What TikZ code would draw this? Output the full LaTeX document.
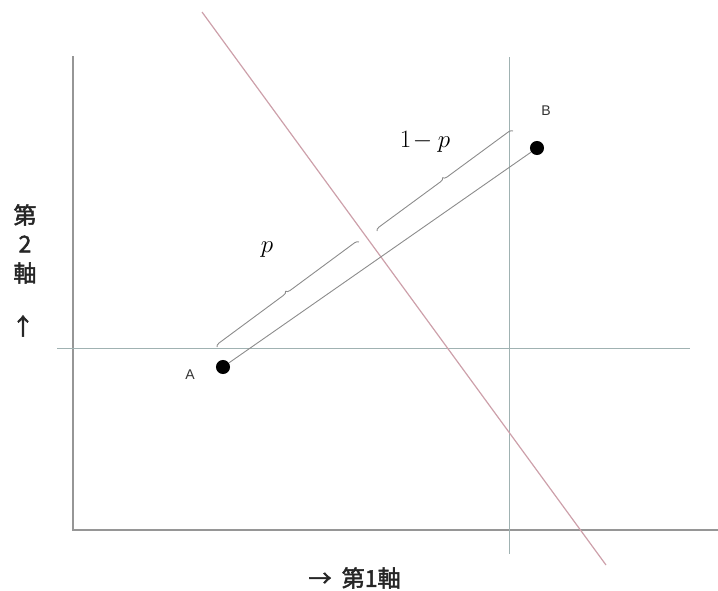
\documentclass[tikz,border=0pt]{standalone}
\usepackage{fontspec}
\newfontfamily\cjk{Noto Sans CJK JP}[FakeBold=2]
\newfontfamily\lbl{Liberation Sans}
\usetikzlibrary{decorations.pathreplacing}
\definecolor{axisgray}{RGB}{150,150,150}
\definecolor{guide}{RGB}{160,178,178}
\definecolor{redline}{RGB}{205,160,170}
\definecolor{bracegray}{RGB}{140,140,140}
\tikzset{
  axis/.style={draw=axisgray, line width=1.3pt},
  guideline/.style={draw=guide, line width=0.9pt},
  cutline/.style={draw=redline, line width=1.2pt},
  dot/.style={circle, fill=black, inner sep=0pt, minimum size=14pt},
  seg/.style={draw=bracegray, line width=0.9pt},
  bracestyle/.style={draw=bracegray, line width=0.9pt, decorate, decoration={brace, amplitude=4pt, aspect=0.5}},
  ptlabel/.style={font=\lbl\fontsize{14}{14}\selectfont, text=black!80},
  jlabel/.style={font=\cjk\fontsize{23}{23}\selectfont, text=black!85},
  mlabel/.style={font=\fontsize{30}{30}\selectfont}
}
\begin{document}
\begin{tikzpicture}[x=0.35mm,y=-0.35mm]
\useasboundingbox (0,0) rectangle (718,590);
% axes
\coordinate (ytop) at (73,56);
\coordinate (orig) at (73,530);
\coordinate (xend) at (718,530);
\draw[axis] (ytop) -- (orig) -- (xend);
% guide lines
\coordinate (hl1) at (57,348);
\coordinate (hl2) at (690,348);
\coordinate (vl1) at (509,57);
\coordinate (vl2) at (509,554);
\draw[guideline] (hl1) -- (hl2);
\draw[guideline] (vl1) -- (vl2);
% red cut line
\coordinate (r1) at (202,12);
\coordinate (r2) at (606,565);
\draw[cutline] (r1) -- (r2);
% points
\node[dot] (A) at (223,367) {};
\node[dot] (B) at (537,148) {};
\node[ptlabel] (Alab) at (190,375) {A};
\node[ptlabel] (Blab) at (546,111) {B};
\draw[seg] (A) -- (B);
% braces
\coordinate (b1s) at (217,347);
\coordinate (b1e) at (359,242);
\coordinate (b2s) at (377,231);
\coordinate (b2e) at (513,131);
\draw[bracestyle] (b1s) -- (b1e);
\draw[bracestyle] (b2s) -- (b2e);
\node[mlabel] (plab) at (267,250) {$p$};
\node[mlabel] (qlab) at (425,142) {$1\!-p$};
% axis labels
\node[jlabel] (y1) at (25,215) {第};
\node[jlabel] (y2) at (25,244) {2};
\node[jlabel] (y3) at (25,273) {軸};
\node[jlabel] (y4) at (23,326) {↑};
\node[jlabel, anchor=west] (x1) at (305,578) {→\hspace{10pt}第1軸};
\end{tikzpicture}
\end{document}
